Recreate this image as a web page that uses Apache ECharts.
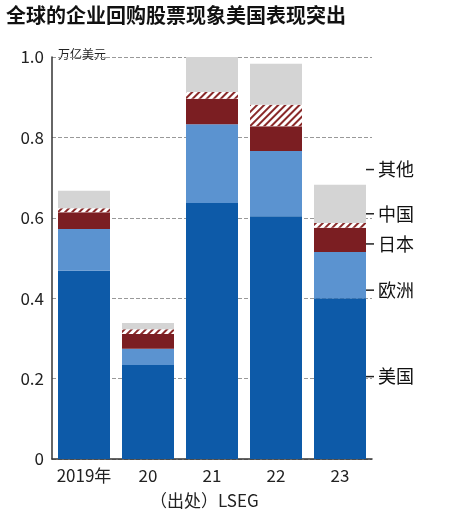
<!DOCTYPE html>
<html><head><meta charset="utf-8">
<script src="https://cdn.jsdelivr.net/npm/echarts@6/dist/echarts.min.js"></script>
<style>html,body{margin:0;padding:0;background:#fff}#c{width:450px;height:525px}</style>
</head><body><div id="c"></div>
<script>
const categories = ['2019年','20','21','22','23'];
const us = [0.468,0.234,0.637,0.604,0.400];
const eu = [0.104,0.040,0.196,0.162,0.115];
const jp = [0.042,0.037,0.063,0.062,0.060];
const cn = [0.010,0.012,0.017,0.053,0.012];
const other = [0.043,0.015,0.087,0.102,0.095];
const legendNames = ['其他','中国','日本','欧洲','美国'];
const legendY = [0.72,0.61,0.535,0.42,0.205];
const yTicks = ['0','0.2','0.4','0.6','0.8','1.0'];

const chart = echarts.init(document.getElementById('c'));
const F = '"Noto Sans CJK SC","Noto Sans",sans-serif';
function s(name,data,style){return {name,type:'bar',stack:'a',data,barWidth:52,itemStyle:style};}
chart.setOption({
  animation:false,
  grid:{left:52,right:78,top:57,bottom:66},
  xAxis:{type:'category',data:categories,axisTick:{show:false},
    axisLine:{lineStyle:{color:'#333',width:1.5}},
    axisLabel:{fontSize:17,color:'#222',fontFamily:F,margin:8,interval:0,hideOverlap:false}},
  yAxis:{type:'value',min:0,max:1,interval:0.2,
    axisLine:{show:true,lineStyle:{color:'#333',width:1.5}},
    axisLabel:{fontSize:17,color:'#222',fontFamily:F,formatter:v=>yTicks[Math.round(v*5)]},
    splitLine:{lineStyle:{type:'dashed',color:'#999'}}},
  series:[
    s('美国',us,{color:'#0d5aa8'}),
    s('欧洲',eu,{color:'#5b93d0'}),
    s('日本',jp,{color:'#7b1e22'}),
    s('中国',cn,{color:'#ffffff',decal:{symbol:'rect',dashArrayX:[1,0],dashArrayY:[2,3],rotation:-Math.PI/4,color:'#8a2a2a'}}),
    s('其他',other,{color:'#d4d4d4'})
  ],
  graphic:[
    {type:'text',left:6,top:5,style:{text:'全球的企业回购股票现象美国表现突出',font:'bold 20px '+F,fill:'#111'}},
    {type:'text',left:58,top:48,style:{text:'万亿美元',font:'12px '+F,fill:'#222'}},
    {type:'text',left:150,top:492,style:{text:'（出处）LSEG',font:'17px '+F,fill:'#222'}},
    {type:'text',left:185,top:426,style:{text:'日经中文网',font:'bold 14px '+F,fill:'rgba(255,255,255,0.85)'}}
  ]
});
const g = [];
legendNames.forEach((n,i)=>{
  const y = chart.convertToPixel({yAxisIndex:0},legendY[i]);
  g.push({type:'line',shape:{x1:366,y1:y,x2:374,y2:y},style:{stroke:'#222',lineWidth:1.5}});
  g.push({type:'text',x:378,y:y,style:{text:n,font:'18px '+F,fill:'#111',textVerticalAlign:'middle'}});
});
chart.setOption({graphic:chart.getOption().graphic[0].elements.concat(g)});
</script></body></html>
